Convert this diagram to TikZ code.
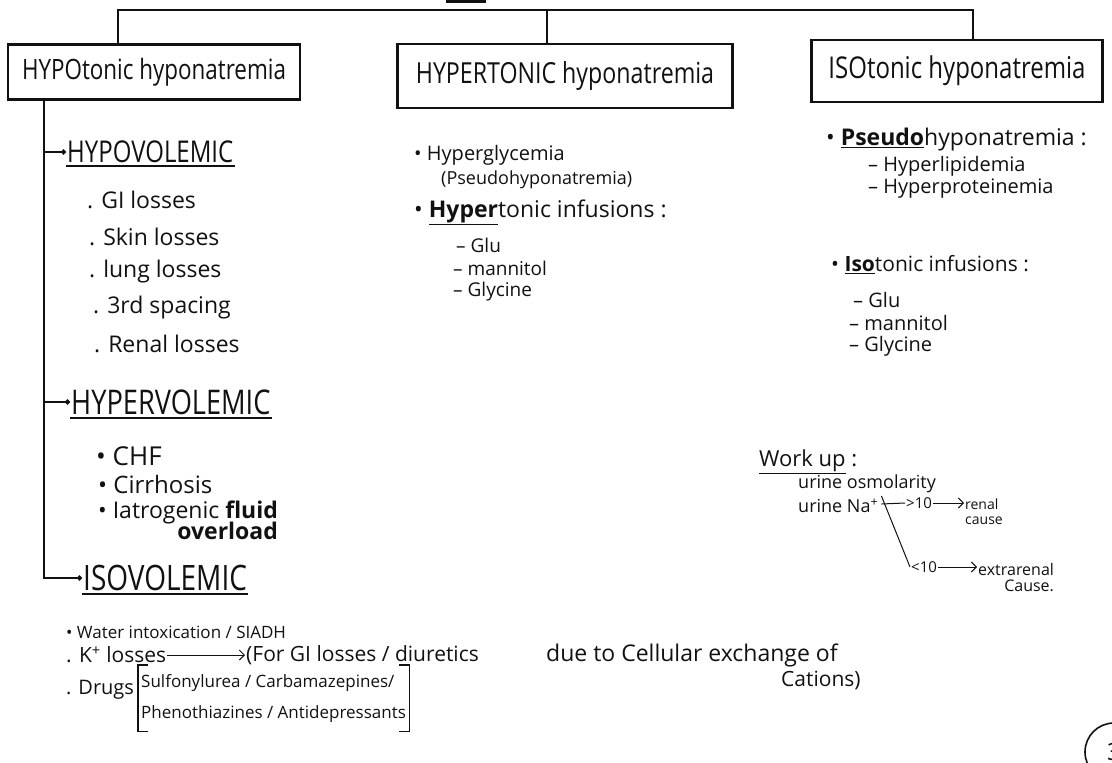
\documentclass[tikz,border=0pt]{standalone}
\usepackage{fontspec}
\setmainfont{Open Sans}
\newfontfamily\handfont[FakeStretch=0.8]{Open Sans}
\usepackage{tikz}
\usetikzlibrary{arrows.meta,positioning,calc}
\definecolor{ink}{HTML}{111111}

\begin{document}
\begin{tikzpicture}[x=1pt,y=-1pt,
  titlebox/.style={draw=ink,line width=2.4pt,inner sep=4pt,text=ink,
    font=\handfont\fontsize{#1}{30}\selectfont},
  titlebox/.default=28,
  grouphead/.style={anchor=west,inner sep=1pt,text=ink,
    font=\handfont\fontsize{#1}{34}\selectfont},
  grouphead/.default=32,
  entry/.style={anchor=west,inner sep=1pt,text=ink,
    font=\fontsize{#1}{#1}\selectfont},
  entry/.default=23,
  tinyentry/.style={anchor=west,inner sep=1pt,text=ink,align=left,
    font=\fontsize{14}{15}\selectfont},
  tree/.style={draw=ink,line width=2.6pt},
  spine/.style={draw=ink,line width=1.6pt,-{Circle[length=5pt]}},
  uline/.style={draw=ink,line width=2pt},
  link/.style={draw=ink,line width=1pt,-{Straight Barb[length=5pt]}},
  brk/.style={draw=ink,line width=1.2pt}
]
  \useasboundingbox (0,0) rectangle (1112,763);
  \clip (0,0) rectangle (1112,763);

  % the three kinds of hyponatremia
  \node[titlebox,minimum width=292pt,minimum height=55pt] (hypotonic)
    at (154,72) {HYPOtonic hyponatremia};
  \node[titlebox=29,minimum width=335pt,minimum height=64pt] (hypertonic)
    at (565,76) {HYPERTONIC hyponatremia};
  \node[titlebox=30,minimum width=291pt,minimum height=62pt] (isotonic)
    at (957,71) {ISOtonic hyponatremia};

  \coordinate (root) at (466,0);
  \coordinate (bus) at (466,10);
  \draw[ink,line width=5pt] ([xshift=-20pt]root) -- ([xshift=20pt]root);
  \draw[tree] ([xshift=-36pt]hypotonic.north) |- (bus)
    -| ([xshift=16pt]isotonic.north);
  \draw[tree] ([xshift=-18pt]hypertonic.north) -- ([xshift=-18pt]hypertonic.north |- bus);

  % hypotonic: volume status
  \coordinate (spine) at ([xshift=37pt]hypotonic.south west);
  \node[grouphead=30] (hypovol) at (66,152) {HYPOVOLEMIC};
  \node[grouphead=34] (hypervol) at (70,402) {HYPERVOLEMIC};
  \node[grouphead=35] (isovol) at (82,578) {ISOVOLEMIC};
  \foreach \g in {hypovol,hypervol,isovol}{
    \draw[spine] (spine) |- (\g.west);
    \draw[uline] ([yshift=-2pt]\g.south west) -- ([yshift=-2pt]\g.south east);
  }

  \node[entry] (gi) at (86,200) {. GI losses};
  \node[entry] (skin) at (88,237) {. Skin losses};
  \node[entry] (lung) at (88,272) {. lung losses};
  \node[entry] (third) at (92,308) {. 3rd spacing};
  \node[entry] (renalloss) at (93,344) {. Renal losses};

  \node[entry=26] (chf) at (95,456) {• CHF};
  \node[entry=24] (cirr) at (97,484) {• Cirrhosis};
  \node[entry=23,anchor=north west,align=right] (iatro) at (97,500)
    {• Iatrogenic \textbf{fluid}\\[-2pt]\textbf{overload}};

  \node[entry=17] (water) at (65,632) {• Water intoxication / SIADH};
  \node[entry=21] (kloss) at (65,655) {. K\textsuperscript{+} losses};
  \node[entry=21] (kcause) at (245,655) {(For GI losses / diuretics};
  \node[entry=23] (kdue) at (545,655) {due to Cellular exchange of};
  \node[entry=21] (kcat) at (780,680) {Cations)};
  \draw[link] (kloss) -- (kcause);
  \node[entry=20] (drugs) at (65,690) {. Drugs};
  \node[entry=17,anchor=north west,align=left,inner xsep=3pt,inner ysep=9pt]
    (druglist) at (138,665)
    {Sulfonylurea / Carbamazepines/\\[14pt]Phenothiazines / Antidepressants};
  \draw[brk] ([xshift=10pt]druglist.north west) -- (druglist.north west)
    -- (druglist.south west) -- ([xshift=10pt]druglist.south west);
  \draw[brk] ([xshift=-10pt]druglist.north east) -- (druglist.north east)
    -- (druglist.south east) -- ([xshift=-10pt]druglist.south east);

  % hypertonic
  \node[entry=20] (hyperg) at (413,155) {• Hyperglycemia};
  \node[entry=18] (pseudoa) at (440,180) {(Pseudohyponatremia)};
  \node[entry=23] (hinf) at (413,212)
    {• \underline{\textbf{Hyper}}tonic infusions :};
  \node[entry=19] (glua) at (455,245) {– Glu};
  \node[entry=19] (manna) at (452,268) {– mannitol};
  \node[entry=19] (glya) at (452,292) {– Glycine};

  % isotonic
  \node[entry=23] (pseudob) at (825,140)
    {• \underline{\textbf{Pseudo}}hyponatremia :};
  \node[entry=20] (lipid) at (867,166) {– Hyperlipidemia};
  \node[entry=20] (prot) at (867,189) {– Hyperproteinemia};
  \node[entry=21] (iinf) at (830,265) {• \underline{\textbf{Iso}}tonic infusions :};
  \node[entry=20] (glub) at (852,300) {– Glu};
  \node[entry=20] (mannb) at (848,323) {– mannitol};
  \node[entry=20] (glyb) at (848,346) {– Glycine};

  % work up
  \node[entry=22] (workup) at (758,462) {\underline{Work up} :};
  \node[entry=18] (osm) at (797,484) {urine osmolarity};
  \node[entry=18] (na) at (797,506) {urine Na\textsuperscript{+}};
  \node[entry=15] (gt) at (905,503) {>10};
  \node[tinyentry] (renal) at (964,512) {renal\\cause};
  \node[entry=15] (lt) at (910,567) {<10};
  \node[entry=16,align=right] (extra) at (977,578) {extrarenal\\Cause.};
  \draw[ink,line width=1pt] ([xshift=2pt,yshift=2pt]na.east) -- (gt.west);
  \draw[ink,line width=1pt] ([xshift=2pt,yshift=10pt]na.east) -- (lt.west);
  \draw[link] (gt) -- (renal.west |- gt);
  \draw[link] (lt.east) -- (lt.east -| extra.west);

  % page number
  \node[draw=ink,circle,line width=1.6pt,minimum size=58pt,text=ink,
    font=\fontsize{24}{26}\selectfont] (pageno) at (1114,752) {3};
\end{tikzpicture}
\end{document}
